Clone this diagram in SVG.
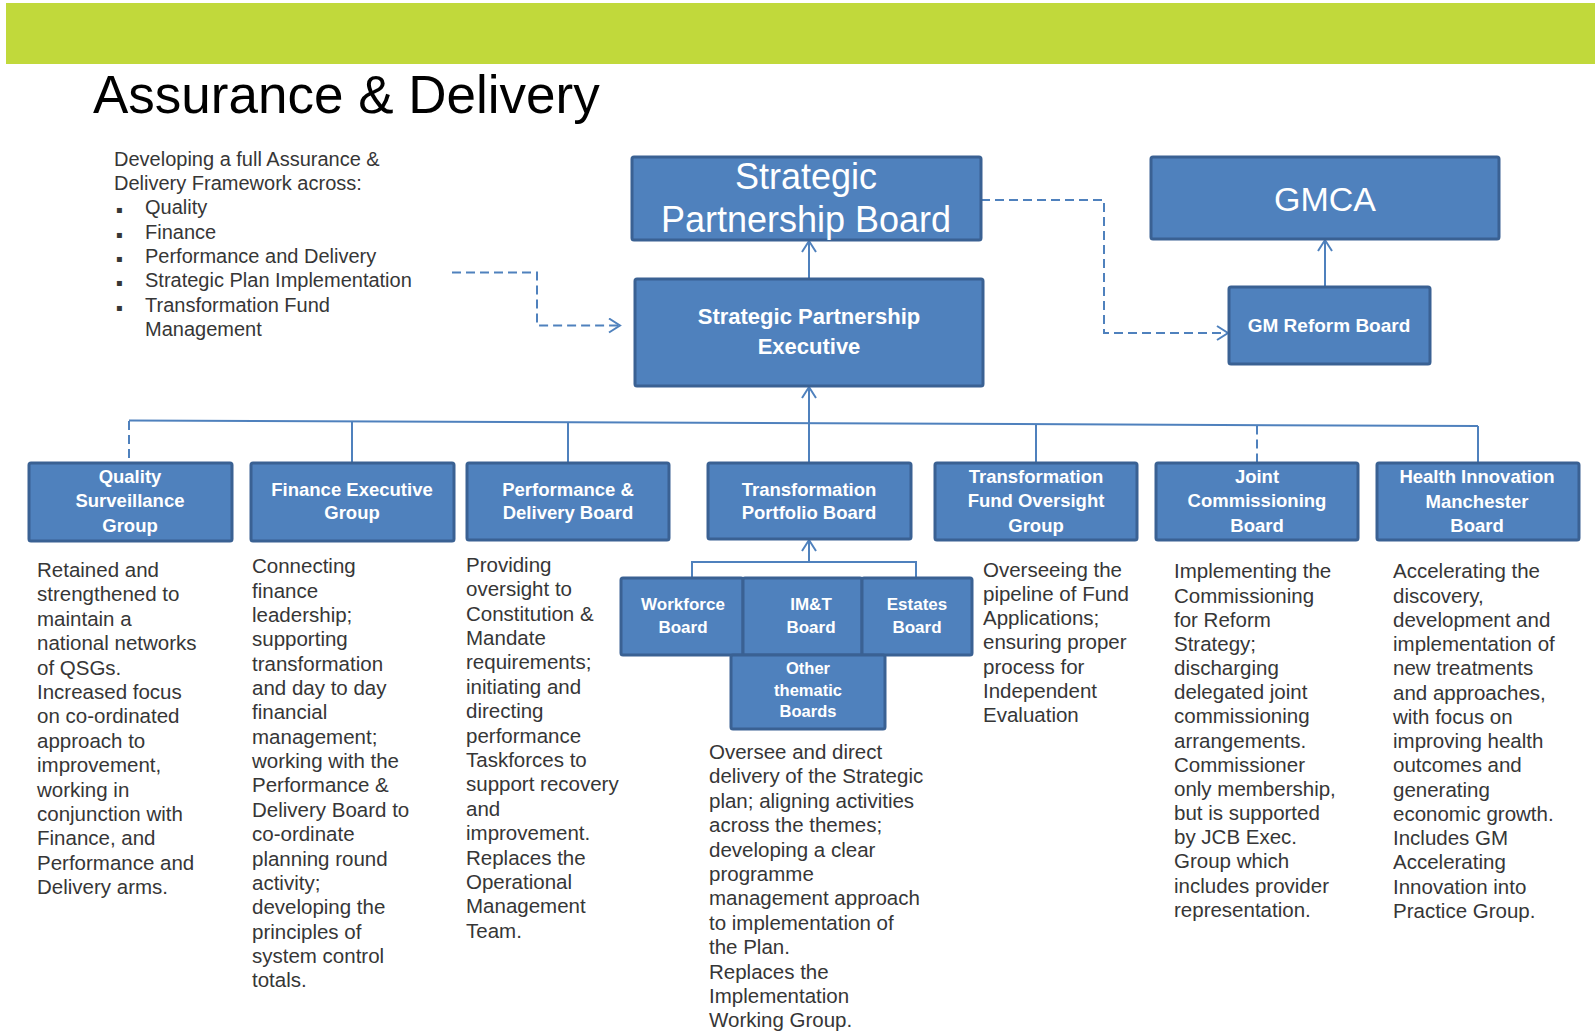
<svg xmlns="http://www.w3.org/2000/svg" width="1595" height="1034" viewBox="0 0 1595 1034">
  <style>
    .box { fill: #4F81BD; stroke: #3A6193; stroke-width: 3; }
    .lbl { font-family: "Liberation Sans", Arial, sans-serif; fill: #ffffff; text-anchor: middle; }
    .b { font-weight: bold; }
    .body { font-family: "Liberation Sans", Arial, sans-serif; font-size: 20.5px; fill: #363636; }
    .wire { stroke: #4F81BD; stroke-width: 2; fill: none; }
    .dash { stroke-dasharray: 9 5; }
  </style>
  <defs>
    <marker id="open" markerUnits="userSpaceOnUse" markerWidth="16" markerHeight="18" refX="12" refY="8" orient="auto">
      <path d="M1,1 L12,8 L1,15" fill="none" stroke="#4F81BD" stroke-width="2"/>
    </marker>
  </defs>

  <rect width="1595" height="1034" fill="#ffffff"/>

  <!-- header band and title -->
  <rect x="6" y="3" width="1589" height="61" fill="#C1D93B"/>
  <text x="93" y="113" font-family="'Liberation Sans', Arial, sans-serif" font-size="53" fill="#000000">Assurance &amp; Delivery</text>

  <!-- framework intro -->
  <g id="intro" class="body" style="font-size:20px">
    <text x="114" y="165.7">Developing a full Assurance &amp;</text>
    <text x="114" y="190">Delivery Framework across:</text>
    <text x="116" y="213.3" font-family="'DejaVu Sans', sans-serif" font-size="10">▪</text>
    <text x="145" y="214.3">Quality</text>
    <text x="116" y="237.7" font-family="'DejaVu Sans', sans-serif" font-size="10">▪</text>
    <text x="145" y="238.7">Finance</text>
    <text x="116" y="262" font-family="'DejaVu Sans', sans-serif" font-size="10">▪</text>
    <text x="145" y="263">Performance and Delivery</text>
    <text x="116" y="286.3" font-family="'DejaVu Sans', sans-serif" font-size="10">▪</text>
    <text x="145" y="287.3">Strategic Plan Implementation</text>
    <text x="116" y="310.7" font-family="'DejaVu Sans', sans-serif" font-size="10">▪</text>
    <text x="145" y="311.7">Transformation Fund</text>
    <text x="145" y="336.3">Management</text>
  </g>

  <!-- connectors -->
  <g id="connectors">
    <path class="wire dash" d="M452,272.6 H537 V325.5 H620" marker-end="url(#open)"/>
    <path class="wire dash" d="M981,200 H1104 V333 H1228" marker-end="url(#open)"/>
    <path class="wire" d="M809,279 V241" marker-end="url(#open)"/>
    <path class="wire" d="M1325,287 V240" marker-end="url(#open)"/>
    <path class="wire" d="M809,463 V387" marker-end="url(#open)"/>
    <path class="wire" d="M129,420.5 L1478,426"/>
    <path class="wire dash" d="M129,421 V463"/>
    <path class="wire" d="M352,421.5 V463"/>
    <path class="wire" d="M568,422.5 V463"/>
    <path class="wire" d="M1036,424.5 V463"/>
    <path class="wire dash" d="M1257,425.5 V463"/>
    <path class="wire" d="M1478,426 V463"/>
    <path class="wire" d="M692,578 V562 H916 V578"/>
    <path class="wire" d="M809,562 V540" marker-end="url(#open)"/>
  </g>

  <!-- top tier -->
  <g id="spb">
    <rect class="box" x="632" y="157" width="349" height="83" rx="2"/>
    <text class="lbl" x="806" y="189" font-size="36">Strategic</text>
    <text class="lbl" x="806" y="232" font-size="36">Partnership Board</text>
  </g>
  <g id="gmca">
    <rect class="box" x="1151" y="157" width="348" height="82" rx="2"/>
    <text class="lbl" x="1325" y="211" font-size="34">GMCA</text>
  </g>
  <g id="spe">
    <rect class="box" x="635" y="279" width="348" height="107" rx="2"/>
    <text class="lbl b" x="809" y="324" font-size="22">Strategic Partnership</text>
    <text class="lbl b" x="809" y="354" font-size="22">Executive</text>
  </g>
  <g id="gmrb">
    <rect class="box" x="1229" y="287" width="201" height="77" rx="2"/>
    <text class="lbl b" x="1329" y="332" font-size="19">GM Reform Board</text>
  </g>

  <!-- board tier -->
  <g id="qsg">
    <rect class="box" x="29" y="463" width="203" height="78" rx="2"/>
    <text class="lbl b" x="130" y="483" font-size="18.5">Quality</text>
    <text class="lbl b" x="130" y="507" font-size="18.5">Surveillance</text>
    <text class="lbl b" x="130" y="532" font-size="18.5">Group</text>
  </g>
  <g id="feg">
    <rect class="box" x="251" y="463" width="203" height="78" rx="2"/>
    <text class="lbl b" x="352" y="496" font-size="18.5">Finance Executive</text>
    <text class="lbl b" x="352" y="519" font-size="18.5">Group</text>
  </g>
  <g id="pdb">
    <rect class="box" x="467" y="463" width="202" height="77" rx="2"/>
    <text class="lbl b" x="568" y="496" font-size="18.5">Performance &amp;</text>
    <text class="lbl b" x="568" y="519" font-size="18.5">Delivery Board</text>
  </g>
  <g id="tpb">
    <rect class="box" x="708" y="463" width="203" height="76" rx="2"/>
    <text class="lbl b" x="809" y="496" font-size="18.5">Transformation</text>
    <text class="lbl b" x="809" y="519" font-size="18.5">Portfolio Board</text>
  </g>
  <g id="tfog">
    <rect class="box" x="935" y="463" width="202" height="77" rx="2"/>
    <text class="lbl b" x="1036" y="483" font-size="18.5">Transformation</text>
    <text class="lbl b" x="1036" y="507" font-size="18.5">Fund Oversight</text>
    <text class="lbl b" x="1036" y="532" font-size="18.5">Group</text>
  </g>
  <g id="jcb">
    <rect class="box" x="1156" y="463" width="202" height="77" rx="2"/>
    <text class="lbl b" x="1257" y="483" font-size="18.5">Joint</text>
    <text class="lbl b" x="1257" y="507" font-size="18.5">Commissioning</text>
    <text class="lbl b" x="1257" y="532" font-size="18.5">Board</text>
  </g>
  <g id="himb">
    <rect class="box" x="1377" y="463" width="202" height="77" rx="2"/>
    <text class="lbl b" x="1477" y="483" font-size="18.5">Health Innovation</text>
    <text class="lbl b" x="1477" y="508" font-size="18.5">Manchester</text>
    <text class="lbl b" x="1477" y="532" font-size="18.5">Board</text>
  </g>

  <!-- thematic boards under the portfolio board -->
  <g id="workforce">
    <rect class="box" x="621" y="578" width="122" height="77" rx="2"/>
    <text class="lbl b" x="683" y="610" font-size="17">Workforce</text>
    <text class="lbl b" x="683" y="633" font-size="17">Board</text>
  </g>
  <g id="imt">
    <rect class="box" x="743" y="578" width="119" height="77" rx="2"/>
    <text class="lbl b" x="811" y="610" font-size="17">IM&amp;T</text>
    <text class="lbl b" x="811" y="633" font-size="17">Board</text>
  </g>
  <g id="estates">
    <rect class="box" x="862" y="578" width="110" height="77" rx="2"/>
    <text class="lbl b" x="917" y="610" font-size="17">Estates</text>
    <text class="lbl b" x="917" y="633" font-size="17">Board</text>
  </g>
  <g id="other">
    <rect class="box" x="731" y="655" width="154" height="74" rx="2"/>
    <text class="lbl b" x="808" y="674" font-size="16.5">Other</text>
    <text class="lbl b" x="808" y="696" font-size="16.5">thematic</text>
    <text class="lbl b" x="808" y="717" font-size="16.5">Boards</text>
  </g>

  <!-- descriptions -->
  <g id="desc-qsg" class="body">
    <text x="37" y="577">Retained and</text>
    <text x="37" y="601.4">strengthened to</text>
    <text x="37" y="625.8">maintain a</text>
    <text x="37" y="650.2">national networks</text>
    <text x="37" y="674.6">of QSGs.</text>
    <text x="37" y="699">Increased focus</text>
    <text x="37" y="723.4">on co-ordinated</text>
    <text x="37" y="747.8">approach to</text>
    <text x="37" y="772.2">improvement,</text>
    <text x="37" y="796.6">working in</text>
    <text x="37" y="821">conjunction with</text>
    <text x="37" y="845.4">Finance, and</text>
    <text x="37" y="869.8">Performance and</text>
    <text x="37" y="894.2">Delivery arms.</text>
  </g>
  <g id="desc-feg" class="body">
    <text x="252" y="573.3">Connecting</text>
    <text x="252" y="597.6">finance</text>
    <text x="252" y="622">leadership;</text>
    <text x="252" y="646.3">supporting</text>
    <text x="252" y="670.7">transformation</text>
    <text x="252" y="695">and day to day</text>
    <text x="252" y="719.4">financial</text>
    <text x="252" y="743.7">management;</text>
    <text x="252" y="768.1">working with the</text>
    <text x="252" y="792.4">Performance &amp;</text>
    <text x="252" y="816.8">Delivery Board to</text>
    <text x="252" y="841.1">co-ordinate</text>
    <text x="252" y="865.5">planning round</text>
    <text x="252" y="889.8">activity;</text>
    <text x="252" y="914.2">developing the</text>
    <text x="252" y="938.5">principles of</text>
    <text x="252" y="962.9">system control</text>
    <text x="252" y="987.2">totals.</text>
  </g>
  <g id="desc-pdb" class="body">
    <text x="466" y="571.7">Providing</text>
    <text x="466" y="596.1">oversight to</text>
    <text x="466" y="620.5">Constitution &amp;</text>
    <text x="466" y="644.9">Mandate</text>
    <text x="466" y="669.3">requirements;</text>
    <text x="466" y="693.7">initiating and</text>
    <text x="466" y="718.1">directing</text>
    <text x="466" y="742.5">performance</text>
    <text x="466" y="766.9">Taskforces to</text>
    <text x="466" y="791.3">support recovery</text>
    <text x="466" y="815.7">and</text>
    <text x="466" y="840.1">improvement.</text>
    <text x="466" y="864.5">Replaces the</text>
    <text x="466" y="888.9">Operational</text>
    <text x="466" y="913.3">Management</text>
    <text x="466" y="937.7">Team.</text>
  </g>
  <g id="desc-tpb" class="body">
    <text x="709" y="759">Oversee and direct</text>
    <text x="709" y="783.4">delivery of the Strategic</text>
    <text x="709" y="807.8">plan; aligning activities</text>
    <text x="709" y="832.2">across the themes;</text>
    <text x="709" y="856.6">developing a clear</text>
    <text x="709" y="881">programme</text>
    <text x="709" y="905.4">management approach</text>
    <text x="709" y="929.8">to implementation of</text>
    <text x="709" y="954.2">the Plan.</text>
    <text x="709" y="978.6">Replaces the</text>
    <text x="709" y="1003">Implementation</text>
    <text x="709" y="1027.4">Working Group.</text>
  </g>
  <g id="desc-tfog" class="body">
    <text x="983" y="576.7">Overseeing the</text>
    <text x="983" y="600.9">pipeline of Fund</text>
    <text x="983" y="625.1">Applications;</text>
    <text x="983" y="649.3">ensuring proper</text>
    <text x="983" y="673.5">process for</text>
    <text x="983" y="697.7">Independent</text>
    <text x="983" y="721.9">Evaluation</text>
  </g>
  <g id="desc-jcb" class="body">
    <text x="1174" y="578.3">Implementing the</text>
    <text x="1174" y="602.5">Commissioning</text>
    <text x="1174" y="626.6">for Reform</text>
    <text x="1174" y="650.8">Strategy;</text>
    <text x="1174" y="675">discharging</text>
    <text x="1174" y="699.2">delegated joint</text>
    <text x="1174" y="723.3">commissioning</text>
    <text x="1174" y="747.5">arrangements.</text>
    <text x="1174" y="771.7">Commissioner</text>
    <text x="1174" y="795.9">only membership,</text>
    <text x="1174" y="820">but is supported</text>
    <text x="1174" y="844.2">by JCB Exec.</text>
    <text x="1174" y="868.4">Group which</text>
    <text x="1174" y="892.6">includes provider</text>
    <text x="1174" y="916.7">representation.</text>
  </g>
  <g id="desc-himb" class="body">
    <text x="1393" y="578.3">Accelerating the</text>
    <text x="1393" y="602.6">discovery,</text>
    <text x="1393" y="626.8">development and</text>
    <text x="1393" y="651.1">implementation of</text>
    <text x="1393" y="675.3">new treatments</text>
    <text x="1393" y="699.6">and approaches,</text>
    <text x="1393" y="723.9">with focus on</text>
    <text x="1393" y="748.1">improving health</text>
    <text x="1393" y="772.4">outcomes and</text>
    <text x="1393" y="796.6">generating</text>
    <text x="1393" y="820.9">economic growth.</text>
    <text x="1393" y="845.2">Includes GM</text>
    <text x="1393" y="869.4">Accelerating</text>
    <text x="1393" y="893.7">Innovation into</text>
    <text x="1393" y="917.9">Practice Group.</text>
  </g>
</svg>
